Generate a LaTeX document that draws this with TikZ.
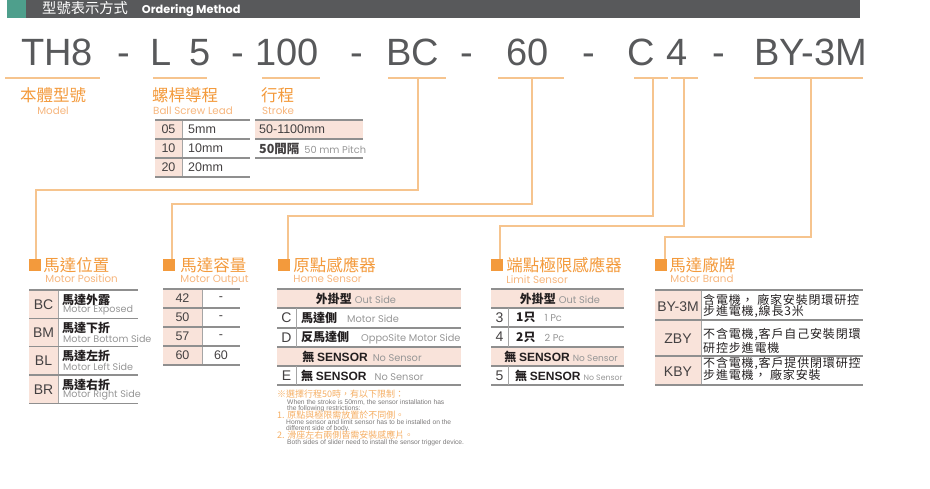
\documentclass[tikz,border=0pt]{standalone}
\usepackage{fontspec}
\setmainfont{Liberation Sans}
\newfontfamily\cjk{Noto Sans CJK TC}
\newfontfamily\cjksp{Noto Sans CJK TC}[LetterSpace=7]
\newfontfamily\geo{Poppins}
\usetikzlibrary{positioning}

\definecolor{hdrgray}{HTML}{58595B}
\definecolor{hdrteal}{HTML}{4E9F8C}
\definecolor{codegray}{HTML}{58595B}
\definecolor{ttlorange}{HTML}{F39A3C}
\definecolor{suborange}{HTML}{F6B57C}
\definecolor{linkorange}{HTML}{F6C48E}
\definecolor{cellpink}{HTML}{F9E3DA}
\definecolor{rulegray}{HTML}{8F8F8F}
\definecolor{engray}{HTML}{969696}
\definecolor{inkblack}{HTML}{231F20}

\newcommand\grayen[1]{{\geo\mdseries\fontsize{9.8}{10}\selectfont\color{engray}#1}}

\tikzset{
  code/.style={anchor=base, inner sep=0pt, text=codegray, font=\fontsize{38}{38}\selectfont},
  uline/.style={draw=linkorange, line width=2pt},
  link/.style={draw=linkorange, line width=1.2pt},
  marker/.style={fill=ttlorange, minimum size=12pt, inner sep=0pt},
  ttl/.style={inner sep=0pt, anchor=west, text=ttlorange, font=\cjk\fontsize{16.5}{17}\selectfont},
  sub/.style={inner sep=0pt, anchor=north west, text=suborange, font=\geo\fontsize{10.3}{10}\selectfont},
  rule/.style={draw=rulegray, line width=1.5pt},
  sep/.style={draw=rulegray!80, line width=0.8pt},
  key/.style={inner sep=0pt, text=inkblack!85, font=\fontsize{14}{14}\selectfont},
  num/.style={inner sep=0pt, text=inkblack!85, font=\fontsize{12.5}{13}\selectfont},
  zh/.style={inner sep=0pt, anchor=west, text=inkblack, font=\cjk\bfseries\fontsize{12}{12}\selectfont},
  brand/.style={inner sep=0pt, anchor=west, text=inkblack, font=\cjksp\fontsize{12}{12}\selectfont},
  entxt/.style={inner sep=0pt, anchor=west, text=engray, font=\geo\fontsize{9.6}{9}\selectfont},
  note/.style={inner sep=0pt, anchor=west, text=ttlorange!80, font=\cjk\fontsize{9}{9}\selectfont},
  notetxt/.style={inner sep=0pt, anchor=west, text=inkblack!60, font=\fontsize{6.7}{7}\selectfont}
}

\begin{document}
\begin{tikzpicture}[x=1pt,y=-1pt]
\useasboundingbox (0,0) rectangle (930,488);

\fill[hdrgray] (7,0) rectangle (860,18);
\fill[hdrteal] (7,0) rectangle (26,18);
\node[anchor=west, inner sep=0pt, text=white] (hdr) at (42,9.5)
  {{\cjk\fontsize{14.3}{15}\selectfont 型號表示方式}\hspace{14pt}{\geo\bfseries\fontsize{11.3}{12}\selectfont Ordering Method}};

\node[code] (cTH) at (57,65) {TH8};
\node[code] (cD1) at (124,65) {-};
\node[code] (cL) at (180.5,65) {L\hspace{7pt} 5};
\node[code] (cD2) at (237.5,65) {-};
\node[code] (cST) at (287,65) {100};
\node[code] (cD3) at (357,65) {-};
\node[code] (cBC) at (412.5,65) {BC};
\node[code] (cD4) at (467,65) {-};
\node[code] (cMO) at (528,65) {60};
\node[code] (cD5) at (588.5,65) {-};
\node[code] (cC) at (641.5,65) {C};
\node[code] (c4) at (677.5,65) {4};
\node[code] (cD6) at (718.5,65) {-};
\node[code] (cBY) at (810.5,65) {BY-3M};

\foreach \a/\b in {5/100,153/207,262/320,388/446,498/564,634/668,671/698,754/863}
  \draw[uline] (\a,78) -- (\b,78);

\coordinate (uBC) at (418,78);
\coordinate (uMO) at (532,78);
\coordinate (uC) at (653,78);
\coordinate (u4) at (684,78);
\coordinate (uBY) at (811,78);

\node[ttl, anchor=center] (tModel) at (53,95) {本體型號};
\node[sub, anchor=north] (sModel) at (53,107) {Model};
\node[ttl] (tLead) at (152,95) {螺桿導程};
\node[sub] (sLead) at (153,107) {Ball Screw Lead};
\node[ttl] (tStroke) at (261,95) {行程};
\node[sub] (sStroke) at (262,107) {Stroke};

\fill[cellpink] (155,120) rectangle (182,177);
\draw[sep] (182,120) -- (182,177);
\foreach \y in {120,139,158,177} \draw[rule] (155,\y) -- (250,\y);
\foreach \a/\b [count=\i from 0] in {05/5mm,10/10mm,20/20mm}{
  \node[num] (ld\a) at (168.5,129.5+19*\i) {\a};
  \node[num, anchor=west] (lv\a) at (188,129.5+19*\i) {\b};
}

\fill[cellpink] (255,120) rectangle (363,139);
\foreach \y in {120,139,158} \draw[rule] (255,\y) -- (363,\y);
\node[num, anchor=west] (st1) at (259,129.5) {50-1100mm};
\node[num, anchor=west] (st2) at (259,148.5) {{\cjk\bfseries 50間隔}\hspace{5pt}\grayen{50 mm Pitch}};

\node[marker] (mPos) at (35,265) {};
\node[marker] (mOut) at (169,265) {};
\node[marker] (mHome) at (284,265) {};
\node[marker] (mLim) at (497,265) {};
\node[marker] (mBrand) at (661,265) {};

\draw[link] (uBC) -- ++(0,112) -| ([xshift=1pt]mPos.north);
\draw[link] (uMO) -- ++(0,126) -| ([xshift=3pt]mOut.north);
\draw[link] (uC) -- ++(0,138) -| ([xshift=4pt]mHome.north);
\draw[link] (u4) -- ++(0,148) -| ([xshift=3pt]mLim.north);
\draw[link] (uBY) -- ++(0,159) -| ([xshift=4pt]mBrand.north);

\node[ttl, right=2pt of mPos] (tPos) {馬達位置};
\node[sub] (sPos) at ([xshift=2pt,yshift=-2pt]tPos.south west) {Motor Position};
\node[ttl, right=5pt of mOut] (tOut) {馬達容量};
\node[sub] (sOut) at ([xshift=0pt,yshift=-2pt]tOut.south west) {Motor Output};
\node[ttl, right=3pt of mHome] (tHome) {原點感應器};
\node[sub] (sHome) at ([yshift=-2pt]tHome.south west) {Home Sensor};
\node[ttl, right=3pt of mLim] (tLim) {端點極限感應器};
\node[sub] (sLim) at ([yshift=-2pt]tLim.south west) {Limit Sensor};
\node[ttl, right=2pt of mBrand] (tBrand) {馬達廠牌};
\node[sub] (sBrand) at ([xshift=1pt,yshift=-2pt]tBrand.south west) {Motor Brand};

\fill[cellpink] (29,290) rectangle (58,403);
\draw[sep] (58,290) -- (58,403);
\foreach \y in {290,318.3,346.7,375,403.3} \draw[rule] (29,\y) -- (138,\y);
\foreach \k/\zh/\en [count=\i from 0] in {BC/馬達外露/Motor Exposed,BM/馬達下折/Motor Bottom Side,BL/馬達左折/Motor Left Side,BR/馬達右折/Motor Right Side}{
  \node[key] (k\k) at (43.5,304.5+28.33*\i) {\k};
  \node[zh] (z\k) at (62,299.5+28.33*\i) {\zh};
  \node[entxt] (e\k) at (63,310.5+28.33*\i) {\en};
}

\fill[cellpink] (163,289) rectangle (202,365);
\draw[sep] (202,289) -- (202,365);
\foreach \y in {289,308,327,346,365} \draw[rule] (163,\y) -- (240,\y);
\foreach \a/\b [count=\i from 0] in {42/-,50/-,57/-,60/60}{
  \node[num] (o\a) at (182.5,298.5+19*\i) {\a};
  \node[num] (p\a) at (221,298.5+19*\i) {\b};
}

\fill[cellpink] (277,289) rectangle (461,308);
\fill[cellpink] (277,347) rectangle (461,366);
\foreach \y in {289,308,328,347,366,385} \draw[rule] (277,\y) -- (461,\y);
\draw[sep] (296,308) -- (296,347);
\draw[sep] (296,366) -- (296,385);
\node[zh, anchor=center] (hOut) at (356,298.5) {外掛型\hspace{3pt}\grayen{Out Side}};
\node[key] (hC) at (286.5,318) {C};
\node[zh] (hCt) at (301,318) {馬達側\hspace{10pt}\grayen{Motor Side}};
\node[key] (hD) at (286.5,337.5) {D};
\node[zh] (hDt) at (301,337.5) {反馬達側\hspace{12pt}\grayen{OppoSite Motor Side}};
\node[zh, anchor=center] (hNo) at (362,356.5) {無 {\rmfamily SENSOR}\hspace{5pt}\grayen{No Sensor}};
\node[key] (hE) at (286.5,375.5) {E};
\node[zh] (hEt) at (301,375.5) {無 {\rmfamily SENSOR}\hspace{8pt}\grayen{No Sensor}};

\fill[cellpink] (491,289) rectangle (624,308);
\fill[cellpink] (491,347) rectangle (624,366);
\foreach \y in {289,308,327,347,366,385} \draw[rule] (491,\y) -- (624,\y);
\draw[sep] (508,308) -- (508,347);
\draw[sep] (508,366) -- (508,385);
\node[zh, anchor=center] (lOut) at (560,298.5) {外掛型\hspace{3pt}\grayen{Out Side}};
\node[key] (l3) at (499.5,317.5) {3};
\node[zh] (l3t) at (516,317.5) {1只\hspace{9pt}\grayen{1 Pc}};
\node[key] (l4) at (499.5,337) {4};
\node[zh] (l4t) at (516,337) {2只\hspace{9pt}\grayen{2 Pc}};
\node[zh, anchor=center] (lNo) at (561,356.5) {無 {\rmfamily SENSOR}\hspace{3pt}{\geo\mdseries\fontsize{9}{9}\selectfont\color{engray}No Sensor}};
\node[key] (l5) at (499.5,375.5) {5};
\node[zh] (l5t) at (515,375.5) {無 {\rmfamily SENSOR}\hspace{3pt}{\geo\mdseries\fontsize{7.8}{8}\selectfont\color{engray}No Sensor}};

\fill[cellpink] (655,290) rectangle (701,385);
\draw[sep] (701,290) -- (701,385);
\foreach \y in {290,320,356,385} \draw[rule] (655,\y) -- (863,\y);
\node[key] (bBY) at (678,307) {BY-3M};
\node[key] (bZBY) at (678,339) {ZBY};
\node[key] (bKBY) at (678,372) {KBY};
\node[brand] (bBY1) at (703,300) {含電機， 廠家安裝閉環研控};
\node[brand] (bBY2) at (703,311.5) {步進電機,線長3米};
\node[brand] (bZ1) at (703,334.5) {不含電機,客戶自己安裝閉環};
\node[brand] (bZ2) at (703,347.5) {研控步進電機};
\node[brand] (bK1) at (703,363.5) {不含電機,客戶提供閉環研控};
\node[brand] (bK2) at (703,375) {步進電機， 廠家安裝};

\node[note] (n0) at (277,394) {※選擇行程50時，有以下限制：};
\node[notetxt] (e1) at (287,402.5) {When the stroke is 50mm, the sensor installation has};
\node[notetxt] (e2) at (287,408.5) {the following restrictions:};
\node[note] (n1) at (277,415.5) {1. 原點與極限需放置於不同側。};
\node[notetxt] (e3) at (286,422.5) {Home sensor and limit sensor has to be installed on the};
\node[notetxt] (e4) at (286,428.5) {different side of body.};
\node[note] (n2) at (277,435) {2. 滑座左右兩側皆需安裝感應片。};
\node[notetxt] (e5) at (287,442.5) {Both sides of slider need to install the sensor trigger device.};
\end{tikzpicture}
\end{document}
